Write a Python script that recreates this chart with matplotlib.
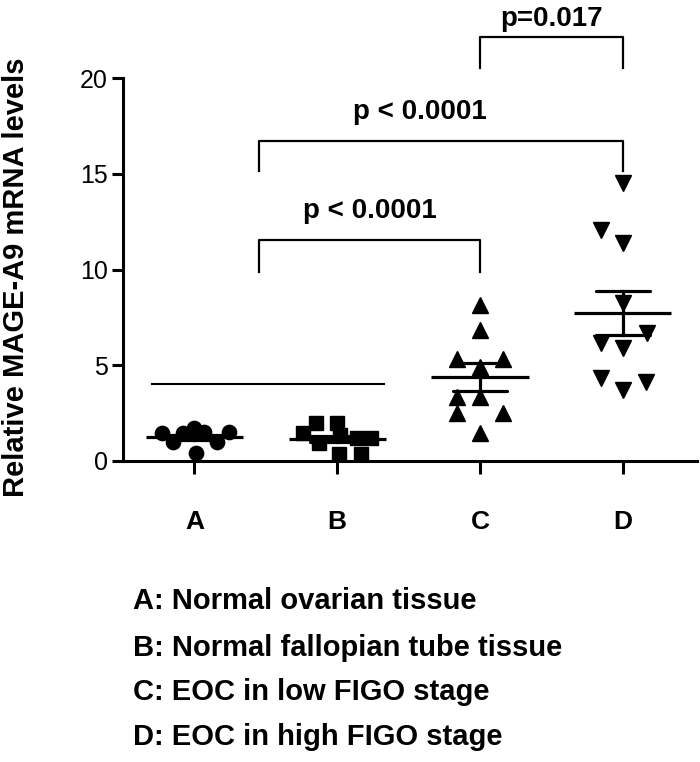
import matplotlib
matplotlib.use("Agg")
import matplotlib.pyplot as plt
import numpy as np

plt.rcParams['font.family'] = ['Liberation Sans', 'DejaVu Sans']

categories = ["A", "B", "C", "D"]
legend_lines = ["A: Normal ovarian tissue",
                "B: Normal fallopian tube tissue",
                "C: EOC in low FIGO stage",
                "D: EOC in high FIGO stage"]

# values
vals_A = [1.48, 1.01, 1.48, 1.71, 1.53, 1.01, 1.53, 0.43]
off_A = [-0.23, -0.15, -0.08, 0.0, 0.07, 0.16, 0.24, 0.01]
vals_B = [1.45, 1.97, 0.94, 1.97, 1.36, 0.37, 0.37, 1.19, 1.19]
off_B = [-0.24, -0.15, -0.13, 0.0, 0.02, 0.01, 0.17, 0.14, 0.24]
vals_C = [8.15, 6.84, 5.31, 5.31, 4.9, 3.36, 3.36, 2.49, 2.49, 1.45]
off_C = [0.0, 0.0, -0.16, 0.16, 0.0, -0.16, 0.0, -0.16, 0.16, 0.0]
vals_D = [14.5, 12.06, 11.37, 8.25, 6.68, 6.16, 5.9, 4.33, 4.14, 3.71]
off_D = [0.0, -0.15, 0.0, 0.0, 0.17, -0.15, 0.0, -0.15, 0.16, 0.0]

means = [1.25, 1.15, 4.40, 7.71]
sems = [0.13, 0.15, 0.72, 1.15]

yticks = [0, 5, 10, 15, 20]
p_labels = ["p < 0.0001", "p < 0.0001", "p=0.017"]

fig = plt.figure(figsize=(7.0, 7.62), dpi=100)
ax = fig.add_axes([123/700, 1-461/762, (697-123)/700, (461-78)/762])
ax.set_xlim(0.5, 4.52)
ax.set_ylim(0, 20)

groups = [(vals_A, off_A, 'o'), (vals_B, off_B, 's'), (vals_C, off_C, '^'), (vals_D, off_D, 'v')]
for i, (v, off, m) in enumerate(groups):
    x0 = i + 1
    xs = x0 + np.array(off)
    ms = 10.3 if m in ('o', 's') else 11.5
    ax.plot(xs, v, linestyle='none', marker=m, markersize=ms, color='black', clip_on=False, zorder=3)
    mu, se = means[i], sems[i]
    ax.plot([x0 - 0.34, x0 + 0.34], [mu, mu], color='black', lw=2.3, zorder=4, solid_capstyle='butt')
    ax.plot([x0 - 0.19, x0 + 0.19], [mu + se, mu + se], color='black', lw=2.3, zorder=4, solid_capstyle='round')
    ax.plot([x0 - 0.19, x0 + 0.19], [mu - se, mu - se], color='black', lw=2.3, zorder=4, solid_capstyle='round')
    ax.plot([x0, x0], [mu - se, mu + se], color='black', lw=2.3, zorder=4)

# horizontal line spanning A and B
ax.plot([0.70, 2.33], [4.0, 4.0], color='black', lw=1.5)

# brackets
def bracket(x1, x2, ytop, yleg):
    ax.plot([x1, x1, x2, x2], [yleg, ytop, ytop, yleg], color='black', lw=1.6, clip_on=False)

bracket(1.45, 3.0, 11.54, 9.87)
bracket(1.45, 4.0, 16.70, 15.14)
bracket(3.0, 4.0, 22.14, 20.52)
ax.text(2.23, 13.05, p_labels[0], ha='center', va='center', fontsize=20, fontweight='bold')
ax.text(2.58, 18.2, p_labels[1], ha='center', va='center', fontsize=20, fontweight='bold')
ax.text(3.5, 23.1, p_labels[2], ha='center', va='center', fontsize=20, fontweight='bold', clip_on=False)

for s in ['top', 'right']:
    ax.spines[s].set_visible(False)
for s in ['left', 'bottom']:
    ax.spines[s].set_linewidth(2.2)

ax.set_yticks(yticks)
ax.set_yticklabels([str(t) for t in yticks], fontsize=18)
ax.set_xticks([1, 2, 3, 4])
ax.set_xticklabels(categories, fontsize=19, fontweight='bold')
ax.tick_params(axis='y', direction='out', length=8, width=2.2, pad=3)
ax.tick_params(axis='x', direction='out', length=9, width=2.2, pad=26)

fig.text(16/700, 1-277/762, "Relative MAGE-A9 mRNA levels", rotation=90,
         ha='center', va='center', fontsize=21, fontweight='bold')

for yy, line in zip([601, 648, 692, 737], legend_lines):
    fig.text(133/700, 1-yy/762, line, ha='left', va='center', fontsize=21, fontweight='bold')

fig.savefig("out.png", dpi=100)
